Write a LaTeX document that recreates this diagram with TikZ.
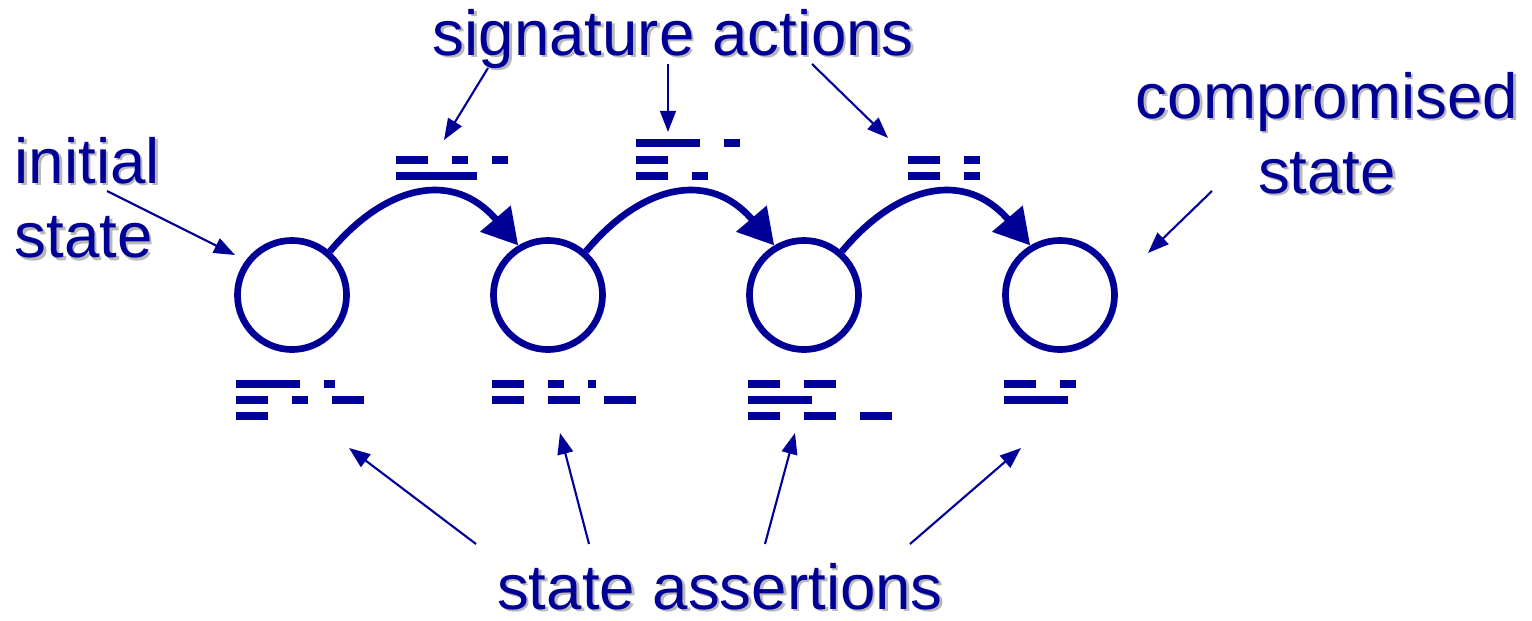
\documentclass[tikz,border=0pt]{standalone}
\usepackage{fontspec}
\setmainfont{Liberation Sans}
\usetikzlibrary{arrows.meta}

\definecolor{navy}{RGB}{0,0,150}
\definecolor{shadowgray}{RGB}{185,185,185}

\tikzset{
  state/.style={circle, draw=navy, line width=1.9pt, minimum size=1.09cm, inner sep=0pt},
  action/.style={draw=navy, line width=1.9pt, -{Triangle[length=10pt, width=11pt]}},
  pointer/.style={draw=navy, line width=0.6pt, -{Triangle[length=6pt, width=4.5pt]}},
  lbl/.style={inner sep=0pt, text=navy, font=\fontsize{18.1}{21.3}\selectfont},
  bar/.style={fill=navy}
}
% text with a soft grey drop shadow
\newcommand{\shtext}[4]{%
  \node[lbl, #2, text=shadowgray, xshift=0.75pt, yshift=-0.75pt] at #3 {#4};
  \node[lbl, #2] (#1) at #3 {#4};}

\begin{document}
\begin{tikzpicture}[x=0.01cm, y=-0.01cm]
  \useasboundingbox (0,0) rectangle (1532,621);
  % states
  \node[state] (s1) at (292,295) {};
  \node[state] (s2) at (548,295) {};
  \node[state] (s3) at (804,295) {};
  \node[state] (s4) at (1060,295) {};
  % transitions
  \path[action] (s1.49) .. controls +(57,-68) and +(-64,-75) .. (s2.121);
  \path[action] (s2.49) .. controls +(57,-68) and +(-64,-75) .. (s3.121);
  \path[action] (s3.49) .. controls +(57,-68) and +(-64,-75) .. (s4.121);
  % actions above the transitions
  \foreach \xa/\ya/\xb in {396/156/428, 452/156/468, 492/156/508, 396/172/477,
      636/139/700, 724/139/740, 636/156/668, 636/172/668, 692/172/708,
      908/156/940, 964/156/980, 908/172/940, 964/172/980}
    \path[bar] (\xa,\ya) rectangle (\xb,\ya+7.5);
  % assertions below the states
  \foreach \xa/\ya/\xb in {236/380/300, 324/380/335, 236/396/268, 292/396/308, 332/396/364, 236/412/268,
      492/380/524, 548/380/564, 588/380/596, 492/396/524, 548/396/580, 604/396/636,
      748/380/780, 804/380/836, 748/396/812, 748/412/780, 804/412/836, 860/412/892,
      1004/380/1036, 1060/380/1076, 1004/396/1068}
    \path[bar] (\xa,\ya) rectangle (\xb,\ya+7.5);
  % labels (base of a two-line label = its last line)
  \shtext{sig}{anchor=base west}{(432,55)}{signature actions}
  \shtext{init}{anchor=base west, align=left}{(14,258)}{initial\\state}
  \shtext{comp}{anchor=base, align=center}{(1327,193)}{compromised\\state}
  \shtext{asrt}{anchor=base}{(720,609)}{state assertions}
  % pointers from the labels
  \coordinate (sa1) at (488,68);  \coordinate (sb1) at (444,140);
  \coordinate (sa2) at (668,64);  \coordinate (sb2) at (668,132);
  \coordinate (sa3) at (812,64);  \coordinate (sb3) at (888,138);
  \path[pointer] (sa1) to (sb1);
  \path[pointer] (sa2) to (sb2);
  \path[pointer] (sa3) to (sb3);
  \coordinate (ia) at (107,191);  \coordinate (ib) at (235,255);
  \coordinate (ca) at (1212,191); \coordinate (cb) at (1148,253);
  \path[pointer] (ia) to (ib);
  \path[pointer] (ca) to (cb);
  \coordinate (aa1) at (476,544); \coordinate (ab1) at (349,448);
  \coordinate (aa2) at (589,544); \coordinate (ab2) at (560,433);
  \coordinate (aa3) at (765,544); \coordinate (ab3) at (795,433);
  \coordinate (aa4) at (910,544); \coordinate (ab4) at (1021,448);
  \path[pointer] (aa1) to (ab1);
  \path[pointer] (aa2) to (ab2);
  \path[pointer] (aa3) to (ab3);
  \path[pointer] (aa4) to (ab4);
\end{tikzpicture}
\end{document}
